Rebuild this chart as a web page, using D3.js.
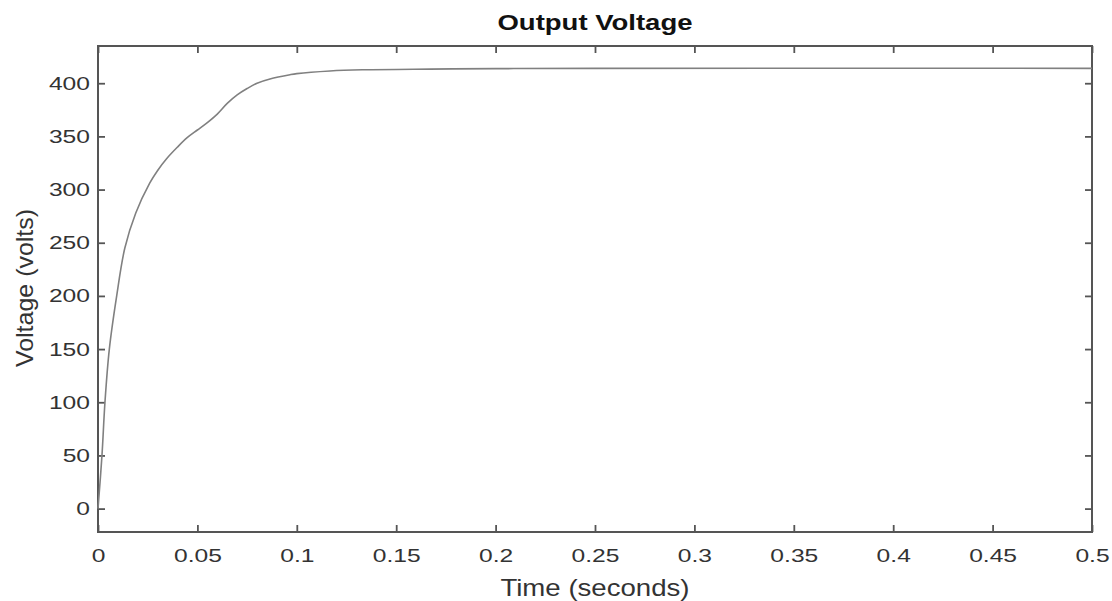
<!DOCTYPE html>
<html lang="en">
<head>
    <meta charset="UTF-8">
    <title>Output Voltage</title>
    <script src="https://d3js.org/d3.v7.min.js"></script>
    <style>
        body {
            margin: 0;
            background-color: #fff;
            font-family: "Liberation Sans", Arial, sans-serif;
        }
        svg {
            display: block;
        }
    </style>
</head>
<body>
    <svg id="chart" width="1112" height="601"></svg>

    <script>
        // values
        const timeS = [0, 0.002, 0.0035, 0.0057, 0.0094, 0.0135, 0.019, 0.026, 0.03, 0.0345, 0.04, 0.045,
            0.05, 0.055, 0.06, 0.065, 0.07, 0.075, 0.08, 0.0865, 0.0966, 0.1, 0.1167, 0.133, 0.167,
            0.2, 0.25, 0.5];
        const voltage = [0, 50, 100, 150, 200, 245, 278, 306, 318, 329, 340, 349,
            356, 363, 371, 381, 389, 395, 400, 404, 408, 409, 411.5, 412.6, 413.3,
            413.7, 414, 414];
        const xTicks = [0, 0.05, 0.1, 0.15, 0.2, 0.25, 0.3, 0.35, 0.4, 0.45, 0.5];
        const yTicks = [0, 50, 100, 150, 200, 250, 300, 350, 400];

        const svg = d3.select("#chart");
        const width = +svg.attr("width");
        const height = +svg.attr("height");
        const margin = { top: 46, right: 20, bottom: 69, left: 98 };
        const w = width - margin.left - margin.right;
        const h = height - margin.top - margin.bottom;

        const g = svg.append("g")
            .attr("transform", `translate(${margin.left},${margin.top})`);

        const x = d3.scaleLinear().domain([0, 0.5]).range([0, w]);
        const y = d3.scaleLinear().domain([-22, 435]).range([h, 0]);

        // stretch text horizontally, the picture is wider than it is tall
        const stretch = (sel, k) => {
            sel.each(function () {
                const len = this.getComputedTextLength();
                d3.select(this)
                    .attr("textLength", len * k)
                    .attr("lengthAdjust", "spacingAndGlyphs");
            });
        };

        const fmt = d => d === 0 ? "0" : String(d);

        const styleAxis = (sel, labels) => {
            sel.select(".domain").remove();
            sel.selectAll("line").attr("stroke", "#555").attr("stroke-width", 1.8);
            const t = sel.selectAll("text");
            if (labels) {
                t.attr("fill", "#333").style("font-size", "18.5px");
                stretch(t, 1.33);
            } else {
                t.remove();
            }
        };

        // ticks point inward on all four sides
        g.append("g")
            .attr("transform", `translate(0,${h})`)
            .call(d3.axisBottom(x).tickValues(xTicks).tickFormat(fmt).tickSizeInner(-7).tickSizeOuter(0).tickPadding(17))
            .call(s => styleAxis(s, true));

        g.append("g")
            .call(d3.axisTop(x).tickValues(xTicks).tickSizeInner(-7).tickSizeOuter(0))
            .call(s => styleAxis(s, false));

        g.append("g")
            .call(d3.axisLeft(y).tickValues(yTicks).tickSizeInner(-7).tickSizeOuter(0).tickPadding(8))
            .call(s => styleAxis(s, true));

        g.append("g")
            .attr("transform", `translate(${w},0)`)
            .call(d3.axisRight(y).tickValues(yTicks).tickSizeInner(-7).tickSizeOuter(0))
            .call(s => styleAxis(s, false));

        g.append("rect")
            .attr("width", w)
            .attr("height", h)
            .attr("fill", "none")
            .attr("stroke", "#555")
            .attr("stroke-width", 2);

        const pts = timeS.map((t, i) => [t, voltage[i]]);
        const line = d3.line()
            .x(d => x(d[0]))
            .y(d => y(d[1]))
            .curve(d3.curveCatmullRom.alpha(0.5));

        g.append("path")
            .datum(pts)
            .attr("d", line)
            .attr("fill", "none")
            .attr("stroke", "#808080")
            .attr("stroke-width", 1.6);

        const title = svg.append("text")
            .attr("x", margin.left + w / 2)
            .attr("y", 30)
            .attr("text-anchor", "middle")
            .style("font-size", "22px")
            .style("font-weight", "bold")
            .attr("fill", "#111")
            .text("Output Voltage");
        stretch(title, 1.25);

        const xLabel = svg.append("text")
            .attr("x", margin.left + w / 2)
            .attr("y", 596)
            .attr("text-anchor", "middle")
            .style("font-size", "24px")
            .attr("fill", "#333")
            .text("Time (seconds)");
        stretch(xLabel, 1.15);

        const yLabel = svg.append("text")
            .attr("transform", "translate(33,288) rotate(-90)")
            .attr("text-anchor", "middle")
            .style("font-size", "24px")
            .attr("fill", "#333")
            .text("Voltage (volts)");
        stretch(yLabel, 1.04);
    </script>
</body>
</html>
